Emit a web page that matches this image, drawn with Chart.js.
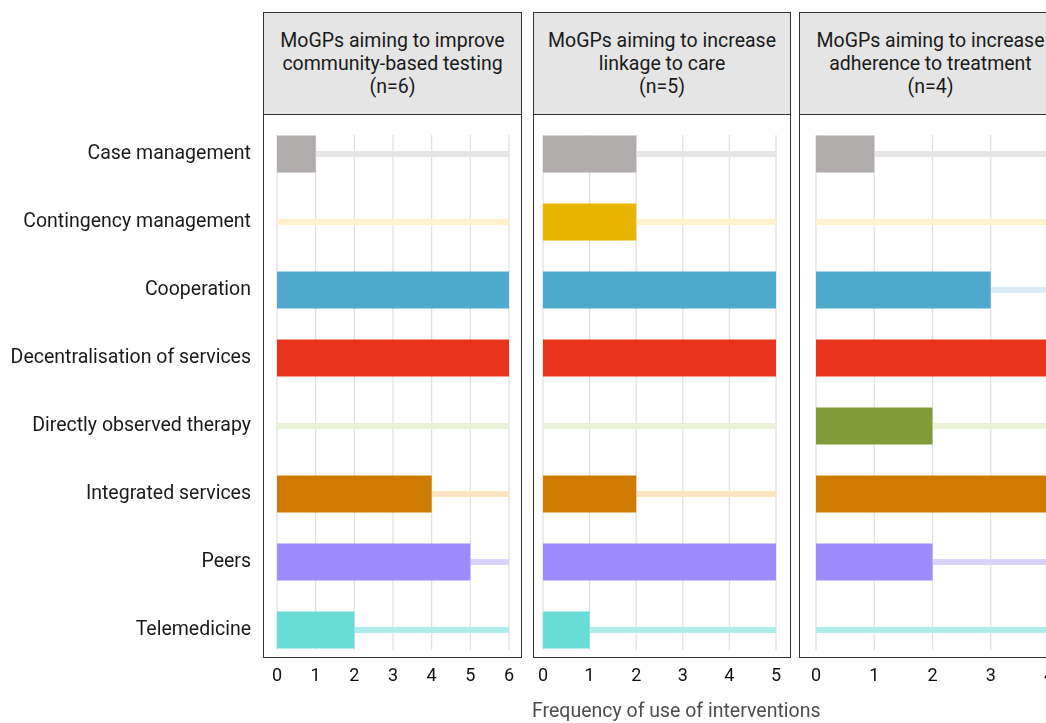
<!DOCTYPE html>
<html>
<head>
<meta charset="utf-8">
<script src="https://cdn.jsdelivr.net/npm/chart.js@4.4.1/dist/chart.umd.min.js"></script>
<style>
  html, body { margin: 0; padding: 0; background: #fff; }
  #wrap { position: relative; width: 1046px; height: 723px; overflow: hidden; font-family: Roboto, sans-serif; }
  .strip, .box { position: absolute; box-sizing: border-box; border: 1.5px solid #333; }
  .strip { background: #e5e5e5; text-align: center; color: #1a1a1a; font-size: 19.5px; line-height: 23px; padding-top: 16px; }
  .box { pointer-events: none; }
  canvas { position: absolute; }
  #xtitle { position: absolute; left: 532px; top: 699px; font-size: 19.5px; color: #4d4d4d; }
</style>
</head>
<body>
<div id="wrap">
  <div class="strip" style="left:263px;top:12px;width:259px;height:103px">MoGPs aiming to improve<br>community-based testing<br>(n=6)</div>
  <div class="strip" style="left:533px;top:12px;width:258px;height:103px">MoGPs aiming to increase<br>linkage to care<br>(n=5)</div>
  <div class="strip" style="left:799px;top:12px;width:263px;height:103px">MoGPs aiming to increase<br>adherence to treatment<br>(n=4)</div>

  <canvas id="c1" width="521" height="620" style="left:0;top:100px"></canvas>
  <canvas id="c2" width="257" height="620" style="left:533px;top:100px"></canvas>
  <canvas id="c3" width="263" height="620" style="left:799px;top:100px"></canvas>

  <div class="box" style="left:263px;top:114px;width:259px;height:544px"></div>
  <div class="box" style="left:533px;top:114px;width:258px;height:544px"></div>
  <div class="box" style="left:799px;top:114px;width:263px;height:544px"></div>

  <div id="xtitle">Frequency of use of interventions</div>
</div>

<script>
const categories = [
  'Case management',
  'Contingency management',
  'Cooperation',
  'Decentralisation of services',
  'Directly observed therapy',
  'Integrated services',
  'Peers',
  'Telemedicine'
];

// number of MoGPs per panel (n)
const testingN = 6;
const linkageN = 5;
const adherenceN = 4;

// interventions used, per category
const testingValues   = [1, 0, 6, 6, 0, 4, 5, 2];
const linkageValues   = [2, 2, 5, 5, 0, 2, 5, 1];
const adherenceValues = [1, 0, 3, 4, 2, 4, 2, 0];

// faint background bars up to n
const testingTotals   = [6, 6, 6, 6, 6, 6, 6, 6];
const linkageTotals   = [5, 5, 5, 5, 5, 5, 5, 5];
const adherenceTotals = [4, 4, 4, 4, 4, 4, 4, 4];

const darkColors = ['#b0acab', '#e9b400', '#4fa9cd', '#e8341c', '#809a38', '#cf7a00', '#9e8cfc', '#68ddd8'];
const lightColors = ['#e6e6e6', '#fff2cc', '#dbecf6', '#fad6d0', '#e9f1d8', '#fee5c2', '#dad4fd', '#aeedea'];

// vertical grid lines only spanning the bars
const gridPlugin = {
  id: 'shortGrid',
  beforeDatasetsDraw(chart) {
    const x = chart.scales.x, y = chart.scales.y;
    const top = y.getPixelForValue(0) - 19;
    const bottom = y.getPixelForValue(categories.length - 1) + 20;
    const ctx = chart.ctx;
    ctx.save();
    ctx.strokeStyle = '#e0e0e0';
    ctx.lineWidth = 1.2;
    x.ticks.forEach(t => {
      const px = x.getPixelForValue(t.value);
      ctx.beginPath();
      ctx.moveTo(px, top);
      ctx.lineTo(px, bottom);
      ctx.stroke();
    });
    ctx.restore();
  }
};

function makePanel(id, values, totals, n, showLabels, padding) {
  const yAxis = {
    display: showLabels,
    grid: { display: false, drawTicks: false },
    border: { display: false },
    ticks: { color: '#1a1a1a', font: { family: 'Roboto', size: 19.5 }, padding: 26 }
  };
  if (showLabels) {
    yAxis.afterFit = s => {
      s.width = 277;
      s.paddingTop = 0;
      s.paddingBottom = 0;
    };
  }
  new Chart(document.getElementById(id), {
    type: 'bar',
    data: {
      labels: categories,
      datasets: [
        { data: values, backgroundColor: darkColors, barThickness: 37, grouped: false, inflateAmount: 0, order: 1 },
        { data: totals, backgroundColor: lightColors, barThickness: 6, grouped: false, inflateAmount: 0, order: 2 }
      ]
    },
    options: {
      indexAxis: 'y',
      responsive: false,
      animation: false,
      layout: { padding: padding },
      plugins: { legend: { display: false }, tooltip: { enabled: false } },
      scales: {
        x: {
          min: 0,
          max: n,
          ticks: { stepSize: 1, color: '#111', font: { family: 'Roboto', size: 18 }, padding: 2 },
          grid: { display: false, drawTicks: false },
          border: { display: false },
          afterFit: s => { s.height = 40; }
        },
        y: yAxis
      }
    },
    plugins: [gridPlugin]
  });
}

makePanel('c1', testingValues, testingTotals, testingN, true, { top: 20, right: 12, bottom: 16, left: 0 });
makePanel('c2', linkageValues, linkageTotals, linkageN, false, { top: 20, right: 14, bottom: 16, left: 10 });
makePanel('c3', adherenceValues, adherenceTotals, adherenceN, false, { top: 20, right: 13, bottom: 16, left: 17 });
</script>
</body>
</html>
